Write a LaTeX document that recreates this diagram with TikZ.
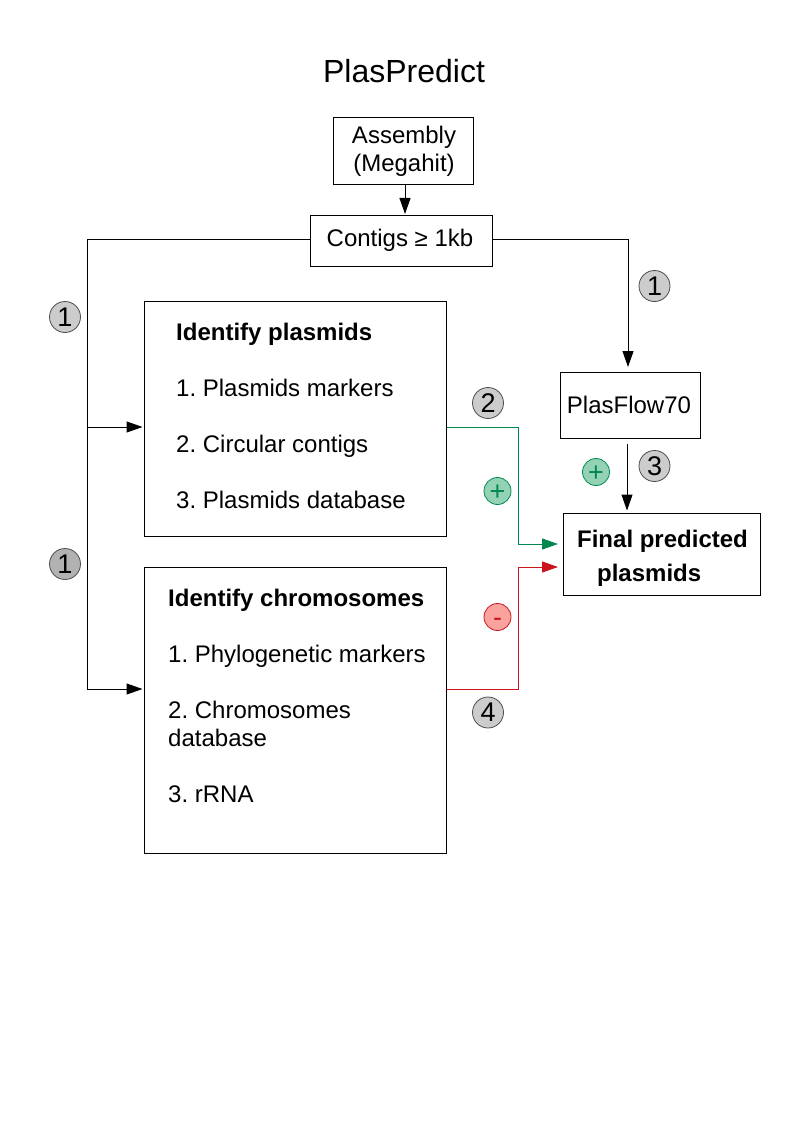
\documentclass[tikz,border=0pt]{standalone}
\usepackage{fontspec}
\setmainfont{Liberation Sans}
\usepackage{xcolor}
\usetikzlibrary{arrows.meta}
\definecolor{plusgreen}{HTML}{00884F}
\definecolor{plusfill}{HTML}{93D2B4}
\definecolor{minusred}{HTML}{C9141C}
\definecolor{minusfill}{HTML}{F9A29E}
\frenchspacing
\tikzset{
  box/.style={draw, line width=1pt, inner sep=0pt},
  txt/.style={font=\fontsize{24}{28}\selectfont, align=left, inner sep=0pt},
  num/.style={circle, draw=black!70, line width=0.8pt, fill=black!20, minimum size=31pt, inner sep=0pt, font=\fontsize{27}{28}\selectfont},
  plusnum/.style={circle, draw=plusgreen, line width=0.8pt, fill=plusfill, text=plusgreen, minimum size=27pt, inner sep=0pt, text height=18.6pt, text depth=0pt, font=\fontsize{27}{28}\selectfont},
  minusnum/.style={circle, draw=minusred, line width=0.8pt, fill=minusfill, text=minusred, minimum size=27pt, inner sep=0pt, text height=18.6pt, text depth=0pt, font=\fontsize{27}{28}\selectfont},
  link/.style={line width=1pt, -{Triangle[length=16pt,width=11pt]}},
}
\begin{document}
\begin{tikzpicture}[x=1pt,y=-1pt]
            \useasboundingbox (0,0) rectangle (794,1123);
            \node[font=\fontsize{32}{36}\selectfont, inner sep=0pt] (title) at (404,71) {PlasPredict};
            \node[box, minimum width=140pt, minimum height=67pt] (assembly) at (403.5,151) {};
            \node[txt, align=center] (assemblytext) at (404,151) {Assembly\\(Megahit)};
            \node[box, minimum width=182pt, minimum height=51pt] (contigs) at (401.5,241) {};
            \node[txt] (contigstext) at (400,240) {Contigs ≥ 1kb};
            \node[box, minimum width=140pt, minimum height=66pt] (plasflow) at (630.5,405.5) {};
            \node[txt] (plasflowtext) at (629,405) {PlasFlow70};
            \node[box, minimum width=197pt, minimum height=82pt] (final) at (662,554.5) {};
            \node[txt, font=\fontsize{24}{34}\selectfont\bfseries, align=left] (finaltext) at (662.5,558) {Final predicted\\\hspace*{20pt}plasmids\hspace*{46pt}};
            \node[box, minimum width=302pt, minimum height=235pt] (plasmids) at (295,418.5) {};
            \node[txt, anchor=north west] (plasmidstext) at (176,323) {\textbf{Identify plasmids}\\[28pt]1. Plasmids markers\\[28pt]2. Circular contigs\\[28pt]3. Plasmids database};
            \node[box, minimum width=302pt, minimum height=286pt] (chromosomes) at (295,710) {};
            \node[txt, anchor=north west] (chromosomestext) at (168,589) {\textbf{Identify chromosomes}\\[28pt]1. Phylogenetic markers\\[28pt]2. Chromosomes\\database\\[28pt]3. rRNA};
            \coordinate (bustop) at (87,239);
            \coordinate (busplasmids) at (87,427);
            \coordinate (buschromosomes) at (87,689);
            \coordinate (flowtop) at (628,239);
            \coordinate (greenout) at (518,427);
            \coordinate (greenin) at (518,544);
            \coordinate (redout) at (518,689);
            \coordinate (redin) at (518,567);
            \draw[link, shorten >=1pt] ([xshift=1.5pt]assembly.south) -- ([xshift=3.5pt]contigs.north);
            \draw[line width=1pt] (contigs.west |- bustop) -- (bustop) -- (buschromosomes);
            \draw[link, shorten >=1pt] (busplasmids) -- (busplasmids -| plasmids.west);
            \draw[link, shorten >=1pt] (buschromosomes) -- (buschromosomes -| chromosomes.west);
            \draw[link, shorten >=5pt] (contigs.east |- flowtop) -- (flowtop) -- (flowtop |- plasflow.north);
            \draw[link, shorten <=4.5pt, shorten >=2.5pt] ([xshift=-3.5pt]plasflow.south) -- ([xshift=-3.5pt]plasflow.south |- final.north);
            \draw[link, plusgreen, shorten >=5pt] (plasmids.east |- greenout) -- (greenout) -- (greenin) -- (greenin -| final.west);
            \draw[link, minusred, shorten >=5pt] (chromosomes.east |- redout) -- (redout) -- (redin) -- (redin -| final.west);
            \node[num] (one) at (654.5,286) {1};
            \node[num] (two) at (488,403) {2};
            \node[num] (three) at (654.5,466) {3};
            \node[num] (four) at (488,712.5) {4};
            \node[num] (oneupper) at (65,317) {1};
            \node[num, fill=black!30] (onelower) at (65,564) {1};
            \node[plusnum] (plusflow) at (596,472) {+};
            \node[plusnum] (plusmarkers) at (497.5,491) {+};
            \node[minusnum] (minusmarkers) at (497.5,617) {-};
\end{tikzpicture}
\end{document}
